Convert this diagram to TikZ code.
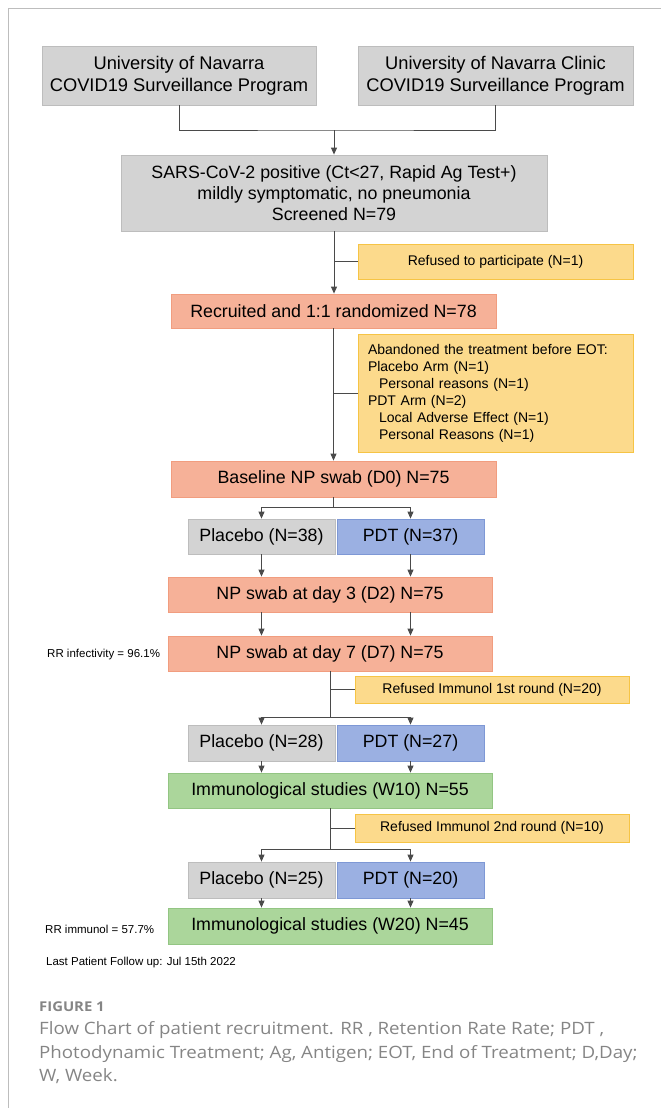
\documentclass[tikz,border=0pt]{standalone}
\usepackage{fontspec}
\setmainfont{Liberation Sans}
\newfontfamily\capfont[FakeStretch=1.1]{Open Sans}
\usetikzlibrary{arrows.meta}

\definecolor{greyfill}{HTML}{D3D3D3}
\definecolor{greyline}{HTML}{BDBDBD}
\definecolor{yelfill}{HTML}{FCDA8C}
\definecolor{yelline}{HTML}{F6C445}
\definecolor{salfill}{HTML}{F6B198}
\definecolor{salline}{HTML}{F19D7F}
\definecolor{bluefill}{HTML}{9BB0E2}
\definecolor{blueline}{HTML}{7E98D5}
\definecolor{grnfill}{HTML}{ABD69B}
\definecolor{grnline}{HTML}{93C583}
\definecolor{connline}{HTML}{4A4A4A}
\definecolor{capgrey}{HTML}{858585}

\begin{document}
\begin{tikzpicture}[x=1pt,y=-1pt,
    box/.style={draw, inner sep=0pt, line width=0.8pt, align=center,
        font=\fontsize{17.8}{21}\selectfont},
    greybox/.style={box, fill=greyfill, draw=greyline},
    salbox/.style={box, fill=salfill, draw=salline},
    bluebox/.style={box, fill=bluefill, draw=blueline},
    grnbox/.style={box, fill=grnfill, draw=grnline},
    yelbox/.style={box, fill=yelfill, draw=yelline, font=\fontsize{14}{17}\selectfont},
    note/.style={anchor=west, inner sep=0pt, font=\fontsize{11.5}{14}\selectfont},
    caption/.style={anchor=base west, inner sep=0pt, text=capgrey, font=\capfont\fontsize{17}{20}\selectfont},
    conn/.style={draw=connline, line width=0.9pt},
    arr/.style={conn, -{Triangle[length=7pt,width=6pt]}}]
    \useasboundingbox (0,0) rectangle (661,1108);
    % frame of the figure panel
    \draw [greyline, line width=0.8pt] (8,1108) -- (8,8) -- (661,8);

    % sources and screening
    \node [greybox, minimum width=274, minimum height=59, font=\fontsize{18.3}{22}\selectfont] (unav) at (179,75.5) {University of Navarra\\COVID19 Surveillance Program};
    \node [greybox, minimum width=275, minimum height=59, font=\fontsize{18.3}{22}\selectfont] (clinic) at (495.5,75.5) {University of Navarra Clinic\\COVID19 Surveillance Program};
    \node [greybox, minimum width=426, minimum height=76] (screen) at (334,193) {SARS-CoV-2 positive (Ct<27, Rapid Ag Test+)\\mildly symptomatic, no pneumonia\\Screened N=79};
    \coordinate (join) at (334,130);
    \draw [conn] (unav.south) |- (join) -| (clinic.south);
    \draw [arr] (join) -- (screen.north);

    % recruitment
    \node [yelbox, minimum width=275, minimum height=35] (refused) at (495.5,261.5) {Refused to participate (N=1)};
    \node [salbox, minimum width=325, minimum height=34] (recruit) at (333.5,311) {Recruited and 1:1 randomized N=78};
    \draw [arr] (screen.south) -- (screen.south |- recruit.north);
    \draw [conn] (refused.west) -- (refused.west -| screen.south);

    \node [yelbox, minimum width=275, minimum height=118, text width=255, align=left] (abandon) at (495.5,393) {Abandoned the treatment before EOT:\\Placebo Arm (N=1)\\\hspace*{11pt}Personal reasons (N=1)\\PDT Arm (N=2)\\\hspace*{11pt}Local Adverse Effect (N=1)\\\hspace*{11pt}Personal Reasons (N=1)};
    \node [salbox, minimum width=325, minimum height=36] (base) at (333.5,479) {Baseline NP swab (D0) N=75};
    \draw [arr] (recruit.south) -- (base.north);
    \draw [conn] (abandon.west) -- (abandon.west -| recruit.south);

    % day 0 to day 7
    \node [greybox, minimum width=147, minimum height=35] (plac1) at (261.5,536.5) {Placebo (N=38)};
    \node [bluebox, minimum width=147, minimum height=35] (pdt1) at (410.5,536.5) {PDT (N=37)};
    \coordinate (split1) at (333.5,507);
    \draw [conn] (base.south) -- (split1);
    \draw [arr] (split1) -| (plac1.north);
    \draw [arr] (split1) -| (pdt1.north);
    \node [salbox, minimum width=324, minimum height=35] (day3) at (330,594.5) {NP swab at day 3 (D2) N=75};
    \node [salbox, minimum width=324, minimum height=35] (day7) at (330,653.5) {NP swab at day 7 (D7) N=75};
    \draw [arr] (plac1.south) -- (plac1.south |- day3.north);
    \draw [arr] (pdt1.south) -- (pdt1.south |- day3.north);
    \draw [arr] (plac1.south |- day3.south) -- (plac1.south |- day7.north);
    \draw [arr] (pdt1.south |- day3.south) -- (pdt1.south |- day7.north);
    \node [note] (rrinf) at (47,655) {RR infectivity = 96.1\%};

    % first immunological round
    \node [yelbox, minimum width=274, minimum height=27] (refimm1) at (492,689.5) {Refused Immunol 1st round (N=20)};
    \node [greybox, minimum width=147, minimum height=36] (plac2) at (261.5,743) {Placebo (N=28)};
    \node [bluebox, minimum width=147, minimum height=36] (pdt2) at (410.5,743) {PDT (N=27)};
    \coordinate (split2) at (330,717);
    \draw [conn] (day7.south) -- (split2);
    \draw [conn] (refimm1.west) -- (refimm1.west -| day7.south);
    \draw [arr] (split2) -| (plac2.north);
    \draw [arr] (split2) -| (pdt2.north);
    \node [grnbox, minimum width=324, minimum height=35] (wk10) at (330,790.5) {Immunological studies (W10) N=55};
    \draw [arr] (plac2.south) -- (plac2.south |- wk10.north);
    \draw [arr] (pdt2.south) -- (pdt2.south |- wk10.north);

    % second immunological round
    \node [yelbox, minimum width=274, minimum height=28] (refimm2) at (492,828) {Refused Immunol 2nd round (N=10)};
    \node [greybox, minimum width=147, minimum height=36] (plac3) at (261.5,880) {Placebo (N=25)};
    \node [bluebox, minimum width=147, minimum height=36] (pdt3) at (410.5,880) {PDT (N=20)};
    \coordinate (split3) at (330,849);
    \draw [conn] (wk10.south) -- (split3);
    \draw [conn] (refimm2.west) -- (refimm2.west -| wk10.south);
    \draw [arr] (split3) -| (plac3.north);
    \draw [arr] (split3) -| (pdt3.north);
    \node [grnbox, minimum width=324, minimum height=36] (wk20) at (330,926) {Immunological studies (W20) N=45};
    \draw [arr] (plac3.south) -- (plac3.south |- wk20.north);
    \draw [arr] (pdt3.south) -- (pdt3.south |- wk20.north);
    \node [note] (rrimm) at (45,929) {RR immunol = 57.7\%};
    \node [note] (lastfu) at (46,963) {Last Patient Follow up: Jul 15th 2022};

    % caption
    \node [caption, font=\capfont\fontsize{13.5}{16}\selectfont\bfseries] (fig) at (39,1011) {FIGURE 1};
    \node [caption] (cap1) at (39,1034) {Flow Chart of patient recruitment. RR , Retention Rate Rate; PDT ,};
    \node [caption] (cap2) at (39,1058) {Photodynamic Treatment; Ag, Antigen; EOT, End of Treatment; D,Day;};
    \node [caption] (cap3) at (39,1081) {W, Week.};
\end{tikzpicture}
\end{document}
